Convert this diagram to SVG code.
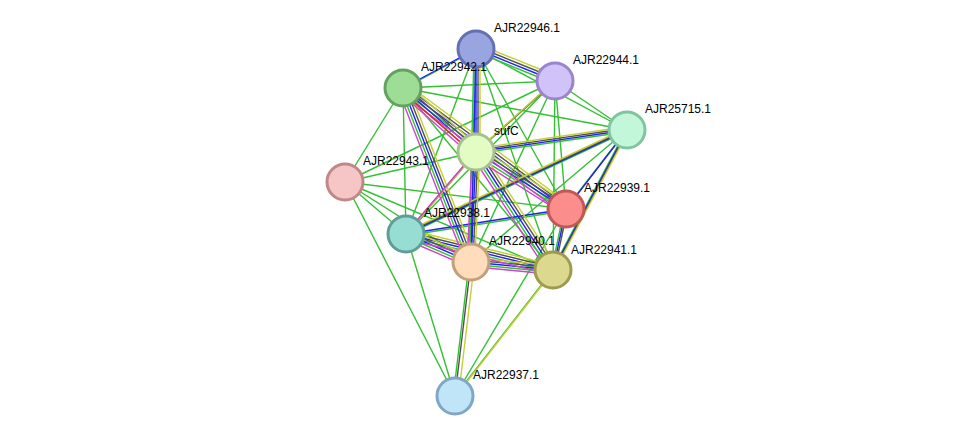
<svg xmlns="http://www.w3.org/2000/svg" width="976" height="442" viewBox="0 0 976 442" xmlns:xlink="http://www.w3.org/1999/xlink">
<style>
line{stroke-width:1.4}
.g{stroke:#33c033}.b{stroke:#2020f0}.k{stroke:#505050}.y{stroke:#c4d030}.m{stroke:#d040d0}.r{stroke:#f02020}
circle{stroke-width:3}
text{font-family:"Liberation Sans",Arial,sans-serif;font-size:12px;fill:#000}
</style>
<defs>
<g id="e4223"><line x1="403" y1="88" x2="476" y2="152"/></g>
</defs>
<rect width="976" height="442" fill="#fff"/>
<g id="connectors">
<!-- simple green edges -->
<g class="g">
<line x1="345" y1="182" x2="403" y2="88"/><line x1="345" y1="182" x2="476" y2="152"/><line x1="345" y1="182" x2="406" y2="234"/><line x1="345" y1="182" x2="471" y2="262"/><line x1="345" y1="182" x2="553" y2="270"/><line x1="345" y1="182" x2="566" y2="209"/><line x1="345" y1="182" x2="455" y2="396"/><line x1="345" y1="182" x2="555" y2="81"/>
<line x1="455" y1="396" x2="406" y2="234"/><line x1="455" y1="396" x2="553" y2="270"/><line x1="455" y1="396" x2="566" y2="209"/>
<line x1="403" y1="88" x2="555" y2="81"/><line x1="403" y1="88" x2="627" y2="130"/><line x1="476" y1="49" x2="406" y2="234"/><line x1="476" y1="49" x2="553" y2="270"/><line x1="476" y1="49" x2="566" y2="209"/>
<line x1="555" y1="81" x2="406" y2="234"/><line x1="555" y1="81" x2="471" y2="262"/><line x1="555" y1="81" x2="553" y2="270"/><line x1="555" y1="81" x2="566" y2="209"/><line x1="555" y1="81" x2="627" y2="130"/>
<line x1="627" y1="130" x2="471" y2="262"/><line x1="627" y1="130" x2="476" y2="49"/><line x1="403" y1="88" x2="406" y2="234"/><line x1="403" y1="88" x2="553" y2="270"/>
</g>
<!-- bundles -->
<g id="bundles">
<g transform="translate(-2,2)"><line class="g" x1="403" y1="88" x2="476" y2="152"/><line class="g" x1="403" y1="88" x2="471" y2="262"/><line class="g" x1="403" y1="88" x2="566" y2="209"/><line class="g" x1="476" y1="152" x2="406" y2="234"/><line class="g" x1="476" y1="152" x2="553" y2="270"/><line class="g" x1="476" y1="152" x2="627" y2="130"/><line class="g" x1="476" y1="49" x2="476" y2="152"/><line class="g" x1="476" y1="49" x2="471" y2="262"/><line class="g" x1="406" y1="234" x2="471" y2="262"/><line class="g" x1="406" y1="234" x2="553" y2="270"/><line class="g" x1="406" y1="234" x2="627" y2="130"/><line class="g" x1="406" y1="234" x2="566" y2="209"/><line class="g" x1="471" y1="262" x2="553" y2="270"/><line class="g" x1="566" y1="209" x2="553" y2="270"/><line class="g" x1="627" y1="130" x2="553" y2="270"/><line class="g" x1="476" y1="49" x2="555" y2="81"/><line class="g" x1="403" y1="88" x2="476" y2="49"/><line class="g" x1="455" y1="396" x2="471" y2="262"/><line class="g" x1="476" y1="152" x2="566" y2="209"/><line class="g" x1="476" y1="152" x2="471" y2="262"/><line class="g" x1="627" y1="130" x2="566" y2="209"/><line class="g" x1="555" y1="81" x2="476" y2="152"/></g>
<g transform="translate(0,0)"><line class="b" x1="403" y1="88" x2="476" y2="152"/><line class="b" x1="403" y1="88" x2="471" y2="262"/><line class="b" x1="403" y1="88" x2="566" y2="209"/><line class="b" x1="476" y1="152" x2="406" y2="234"/><line class="b" x1="476" y1="152" x2="553" y2="270"/><line class="b" x1="476" y1="152" x2="627" y2="130"/><line class="b" x1="476" y1="49" x2="476" y2="152"/><line class="b" x1="476" y1="49" x2="471" y2="262"/><line class="b" x1="406" y1="234" x2="471" y2="262"/><line class="b" x1="406" y1="234" x2="553" y2="270"/><line class="b" x1="406" y1="234" x2="627" y2="130"/><line class="b" x1="406" y1="234" x2="566" y2="209"/><line class="b" x1="471" y1="262" x2="553" y2="270"/><line class="b" x1="566" y1="209" x2="553" y2="270"/><line class="b" x1="627" y1="130" x2="553" y2="270"/><line class="b" x1="476" y1="49" x2="555" y2="81"/><line class="b" x1="403" y1="88" x2="476" y2="49"/><line class="k" x1="455" y1="396" x2="471" y2="262"/><line class="b" x1="476" y1="152" x2="566" y2="209"/><line class="b" x1="476" y1="152" x2="471" y2="262"/><line class="b" x1="627" y1="130" x2="566" y2="209"/><line class="k" x1="555" y1="81" x2="476" y2="152"/></g>
<g transform="translate(2,-2)"><line class="k" x1="403" y1="88" x2="476" y2="152"/><line class="k" x1="403" y1="88" x2="471" y2="262"/><line class="k" x1="403" y1="88" x2="566" y2="209"/><line class="k" x1="476" y1="152" x2="406" y2="234"/><line class="k" x1="476" y1="152" x2="553" y2="270"/><line class="k" x1="476" y1="152" x2="627" y2="130"/><line class="k" x1="476" y1="49" x2="476" y2="152"/><line class="k" x1="406" y1="234" x2="471" y2="262"/><line class="k" x1="406" y1="234" x2="553" y2="270"/><line class="k" x1="406" y1="234" x2="627" y2="130"/><line class="k" x1="471" y1="262" x2="553" y2="270"/><line class="k" x1="566" y1="209" x2="553" y2="270"/><line class="k" x1="627" y1="130" x2="553" y2="270"/><line class="k" x1="476" y1="49" x2="555" y2="81"/><line class="k" x1="476" y1="152" x2="566" y2="209"/><line class="k" x1="476" y1="152" x2="471" y2="262"/></g>
<g transform="translate(4,-4)"><line class="y" x1="403" y1="88" x2="476" y2="152"/><line class="y" x1="403" y1="88" x2="471" y2="262"/><line class="y" x1="403" y1="88" x2="566" y2="209"/><line class="y" x1="476" y1="152" x2="406" y2="234"/><line class="y" x1="476" y1="152" x2="553" y2="270"/><line class="y" x1="476" y1="152" x2="627" y2="130"/><line class="y" x1="476" y1="49" x2="476" y2="152"/><line class="y" x1="406" y1="234" x2="471" y2="262"/><line class="y" x1="406" y1="234" x2="553" y2="270"/><line class="y" x1="406" y1="234" x2="627" y2="130"/><line class="y" x1="471" y1="262" x2="553" y2="270"/><line class="y" x1="627" y1="130" x2="553" y2="270"/><line class="y" x1="476" y1="49" x2="555" y2="81"/><line class="y" x1="455" y1="396" x2="471" y2="262"/><line class="y" x1="476" y1="152" x2="566" y2="209"/><line class="y" x1="476" y1="152" x2="471" y2="262"/><line class="y" x1="455" y1="396" x2="553" y2="270"/><line class="y" x1="555" y1="81" x2="476" y2="152"/></g>
<g transform="translate(-4,4)"><line class="m" x1="403" y1="88" x2="476" y2="152"/><line class="m" x1="403" y1="88" x2="471" y2="262"/><line class="m" x1="403" y1="88" x2="566" y2="209"/><line class="m" x1="476" y1="152" x2="406" y2="234"/><line class="m" x1="476" y1="152" x2="553" y2="270"/><line class="m" x1="406" y1="234" x2="471" y2="262"/><line class="m" x1="406" y1="234" x2="553" y2="270"/><line class="m" x1="471" y1="262" x2="553" y2="270"/><line class="m" x1="476" y1="152" x2="566" y2="209"/><line class="m" x1="476" y1="152" x2="471" y2="262"/></g>
<line class="r" x1="403" y1="88" x2="476" y2="152" transform="translate(-1,3)"/>
</g>
</g>
<g id="n46"><circle cx="476" cy="49" r="18" fill="#99a5e0" stroke="#6470b0"/><text x="494" y="32">AJR22946.1</text></g>
<g id="n44"><circle cx="555" cy="81" r="18" fill="#d1c2fa" stroke="#9a85cc"/><text x="573" y="64">AJR22944.1</text></g>
<g id="n42"><circle cx="403" cy="88" r="18" fill="#9edd96" stroke="#63a35d"/><text x="421" y="71">AJR22942.1</text></g>
<g id="n15"><circle cx="627" cy="130" r="18" fill="#c2f7d9" stroke="#80c4a0"/><text x="645" y="113">AJR25715.1</text></g>
<g id="nsufC"><circle cx="476" cy="152" r="18" fill="#e3fcc3" stroke="#a8c090"/><text x="494" y="135">sufC</text></g>
<g id="n43"><circle cx="345" cy="182" r="18" fill="#f6c6c6" stroke="#c08888"/><text x="363" y="165">AJR22943.1</text></g>
<g id="n39"><circle cx="566" cy="209" r="18" fill="#fb8d8d" stroke="#c05858"/><text x="584" y="192">AJR22939.1</text></g>
<g id="n38"><circle cx="406" cy="234" r="18" fill="#97ddd4" stroke="#5f9e95"/><text x="424" y="217">AJR22938.1</text></g>
<g id="n40"><circle cx="471" cy="262" r="18" fill="#fedcbc" stroke="#c4a07a"/><text x="489" y="245">AJR22940.1</text></g>
<g id="n41"><circle cx="553" cy="270" r="18" fill="#dcd88e" stroke="#9e9a50"/><text x="571" y="254">AJR22941.1</text></g>
<g id="n37"><circle cx="455" cy="396" r="18" fill="#c0e5f9" stroke="#80a8c4"/><text x="473" y="379">AJR22937.1</text></g>
</svg>
